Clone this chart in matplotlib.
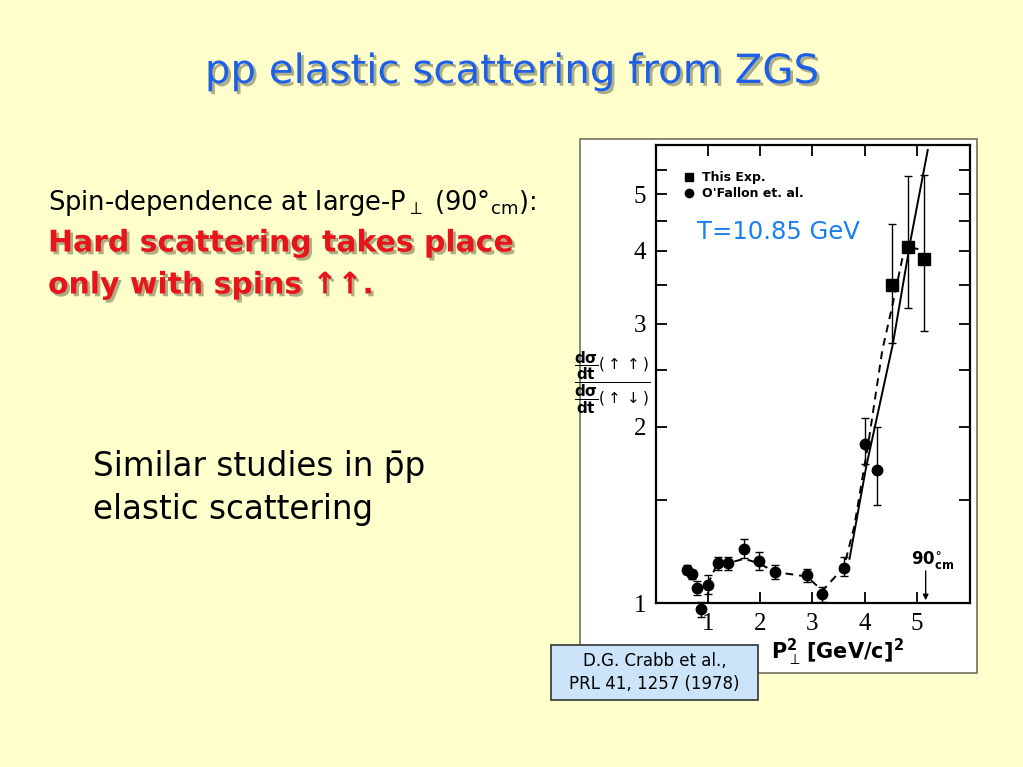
import matplotlib
matplotlib.use("Agg")
import matplotlib.pyplot as plt
import matplotlib.patheffects as pe
from matplotlib.patches import Rectangle
from matplotlib.lines import Line2D

W, H = 1023, 767

# O'Fallon et al. points (circles)
ofallon_x = [0.60, 0.69, 0.79, 0.87, 0.99, 1.18, 1.38, 1.69, 1.97, 2.28, 2.89, 3.19, 3.60, 4.00, 4.23]
ofallon_y = [1.14, 1.12, 1.06, 0.975, 1.075, 1.17, 1.17, 1.235, 1.18, 1.13, 1.115, 1.035, 1.15, 1.87, 1.69]
ofallon_lo = [0.02, 0.02, 0.03, 0.03, 0.04, 0.03, 0.03, 0.04, 0.04, 0.03, 0.03, 0.03, 0.04, 0.14, 0.22]
ofallon_hi = [0.02, 0.02, 0.03, 0.03, 0.04, 0.03, 0.03, 0.05, 0.04, 0.03, 0.03, 0.03, 0.05, 0.20, 0.31]

# This experiment (squares)
exp_x = [4.52, 4.83, 5.13]
exp_y = [3.50, 4.06, 3.88]
exp_lo = [0.72, 0.87, 0.96]
exp_hi = [0.94, 1.31, 1.51]

# curves drawn through the data
solid_x = [3.71, 4.03, 4.54, 4.88, 5.21]
solid_y = [1.19, 1.71, 2.77, 4.17, 5.95]
dash_x = [0.99, 1.18, 1.38, 1.69, 1.97, 2.28, 2.89, 3.19, 3.60, 3.80, 4.08, 4.34, 4.54, 4.73, 4.83, 5.03]
dash_y = [1.075, 1.17, 1.17, 1.19, 1.17, 1.13, 1.11, 1.05, 1.15, 1.35, 1.90, 2.71, 3.25, 3.91, 4.06, 4.03]

yticks = [1, 2, 3, 4, 5]
yminor = [1.5, 2.5, 3.5, 4.5, 5.5]
xticks = [1, 2, 3, 4, 5]


def fx(px):
    return px / W


def fy(py):
    return 1 - py / H


fig = plt.figure(figsize=(W / 100, H / 100), dpi=100, facecolor="#FFFFCC")

shadow = [pe.withSimplePatchShadow(offset=(2, -2), shadow_rgbFace="#9a9a70", alpha=0.8)]

# title
fig.text(0.5, fy(72), "pp elastic scattering from ZGS", ha="center", va="center",
         fontsize=29, color="#1E5FE8", family="DejaVu Sans", path_effects=shadow)

# left text
fig.text(fx(48), fy(203), r"Spin-dependence at large-P$_{\perp}$ (90°$_{\mathrm{cm}}$):",
         ha="left", va="center", fontsize=18.5, color="black")
fig.text(fx(48), fy(243), "Hard scattering takes place", ha="left", va="center",
         fontsize=21.5, color="#E8141C", weight="bold", path_effects=shadow)
fig.text(fx(48), fy(285), "only with spins \u2191\u2191.", ha="left", va="center",
         fontsize=21.5, color="#E8141C", weight="bold", path_effects=shadow)

fig.text(fx(93), fy(467), "Similar studies in p\u0304p", ha="left", va="center",
         fontsize=23.5, color="black")
fig.text(fx(93), fy(510), "elastic scattering", ha="left", va="center",
         fontsize=23.5, color="black")

# white panel behind the scanned plot
fig.add_artist(Rectangle((fx(580), fy(673)), fx(977 - 580), (673 - 139) / H,
                         transform=fig.transFigure, facecolor="white",
                         edgecolor="#707060", lw=1.2, zorder=0))

ax = fig.add_axes([fx(656), fy(603), fx(970 - 656), (603 - 145) / H])
ax.set_facecolor("white")
ax.set_yscale("log")
ax.set_xlim(0, 6.02)
ax.set_ylim(1, 6.07)

ax.errorbar(ofallon_x, ofallon_y, yerr=[ofallon_lo, ofallon_hi], fmt="o", color="black",
            ms=7.5, capsize=3, elinewidth=1, clip_on=False, zorder=3)
ax.errorbar(exp_x, exp_y, yerr=[exp_lo, exp_hi], fmt="s", color="black",
            ms=8, capsize=3, elinewidth=1, clip_on=False, zorder=3)
ax.plot(solid_x, solid_y, color="black", lw=1.4)
ax.plot(dash_x, dash_y, color="black", lw=1.4, ls=(0, (4, 3)))

ax.set_yticks(yticks)
ax.set_yticklabels([str(t) for t in yticks])
ax.set_yticks(yminor, minor=True)
ax.set_yticklabels([], minor=True)
ax.set_xticks(xticks)
ax.set_xticklabels([str(t) for t in xticks])
ax.tick_params(axis="both", which="both", direction="in", top=True, right=True,
               length=8, width=1.3, labelsize=18, pad=7)
ax.tick_params(axis="y", which="minor", length=8)
for lab in ax.get_xticklabels() + ax.get_yticklabels():
    lab.set_family("Liberation Serif")
for s in ax.spines.values():
    s.set_linewidth(1.6)

# legend
handles = [Line2D([], [], marker="s", ls="none", color="black", ms=6),
           Line2D([], [], marker="o", ls="none", color="black", ms=6)]
leg = ax.legend(handles, ["This Exp.", "O'Fallon et. al."], loc="upper left",
                bbox_to_anchor=((678 - 656) / 314, (603 - 165) / 458), frameon=False,
                handlelength=0.8, handletextpad=0.6, labelspacing=0.25, borderpad=0,
                prop={"family": "DejaVu Sans", "size": 9, "weight": "bold"})

ax.text(0.132, 0.81, "T=10.85 GeV", transform=ax.transAxes, ha="left", va="center",
        fontsize=17.5, color="#1A7FF0")

# 90 deg arrow
ax.annotate("", xy=(5.17, 1.0), xytext=(5.17, 1.147),
            arrowprops=dict(arrowstyle="-|>", color="black", lw=1, mutation_scale=8))
ax.text(5.3, 1.18, r"$\mathbf{90^{\circ}_{cm}}$", ha="center", va="center", fontsize=12)

# axis labels
fig.text(fx(771), fy(652), r"$\mathbf{P}_{\perp}^{\mathbf{2}}\,\mathbf{[GeV/c]^{2}}$",
         ha="left", va="center", fontsize=15)
fig.text(fx(612), fy(383),
         r"$\dfrac{\dfrac{\mathbf{d\sigma}}{\mathbf{dt}}(\uparrow\uparrow)}"
         r"{\dfrac{\mathbf{d\sigma}}{\mathbf{dt}}(\uparrow\downarrow)}$",
         ha="center", va="center", fontsize=11)

# citation box
fig.add_artist(Rectangle((fx(551), fy(700)), fx(758 - 551), (700 - 645) / H,
                         transform=fig.transFigure, facecolor="#CCE4FA",
                         edgecolor="#333333", lw=1.2, zorder=5))
fig.text(fx(654.5), fy(672.5), "D.G. Crabb et al.,\nPRL 41, 1257 (1978)", ha="center",
         va="center", fontsize=12, linespacing=1.3, zorder=6)

fig.savefig("out.png", dpi=100, facecolor=fig.get_facecolor())
